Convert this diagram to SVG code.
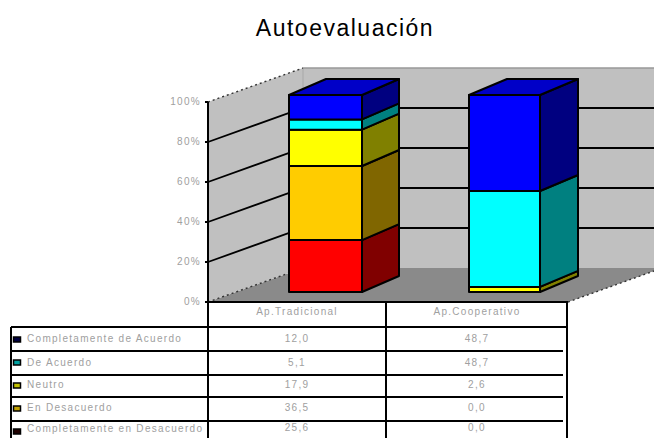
<svg xmlns="http://www.w3.org/2000/svg" width="654" height="438" viewBox="0 0 654 438">
<style>
.t{font-family:"Liberation Sans",Arial,sans-serif;font-size:10px;fill:#a0a0a0;letter-spacing:1.3px}
.title{font-family:"Liberation Sans",Arial,sans-serif;font-size:23px;fill:#000;letter-spacing:1.5px}
.grid{stroke:#000;stroke-width:1.8;fill:none}
.edge{stroke:#333;stroke-width:1.4;stroke-dasharray:2 3;fill:none}
.bar{stroke:#000;stroke-width:2;stroke-linejoin:round}
.tbl{stroke:#000;stroke-width:2;fill:none}
.key{stroke:#000;stroke-width:1.5}
</style>
<rect width="654" height="438" fill="#fff"/>
<g id="title"><text class="title" x="345" y="36" text-anchor="middle">Autoevaluación</text></g>
<g id="walls">
<polygon points="208,302 303,268 654,268 654,271 568,302" fill="#8a8a8a"/>
<polygon points="208,102 303,68 303,268 208,302" fill="#c0c0c0"/>
<rect x="303" y="68" width="351" height="200" fill="#c0c0c0"/>
<line x1="303" y1="68" x2="654" y2="68" stroke="#999" stroke-width="1.5"/>
<line x1="303" y1="68" x2="303" y2="268" stroke="#a8a8a8" stroke-width="1"/>
<line class="edge" x1="208" y1="102" x2="303" y2="68"/>
<line class="edge" x1="208" y1="302" x2="303" y2="268"/>
<line class="edge" x1="568" y1="302" x2="654" y2="271"/>
</g>
<g id="gridlines">
<path class="grid" d="M208,142 L303,108 L654,108 M208,182 L303,148 L654,148 M208,222 L303,188 L654,188 M208,262 L303,228 L654,228"/>
<path class="grid" d="M205,102 H208 M205,142 H208 M205,182 H208 M205,222 H208 M205,262 H208 M205,302 H208"/>
</g>
<g id="axis-labels">
<text class="t" x="201" y="105" text-anchor="end">100%</text>
<text class="t" x="201" y="145" text-anchor="end">80%</text>
<text class="t" x="201" y="185" text-anchor="end">60%</text>
<text class="t" x="201" y="225" text-anchor="end">40%</text>
<text class="t" x="201" y="265" text-anchor="end">20%</text>
<text class="t" x="201" y="305" text-anchor="end">0%</text>
</g>
<g id="bar-tradicional">
<polygon class="bar" fill="#ff0000" points="289,240.1 362,240.1 362,292 289,292"/>
<polygon class="bar" fill="#800000" points="362,292 399,276 399,224.1 362,240.1"/>
<polygon class="bar" fill="#ffcc00" points="289,166 362,166 362,240.1 289,240.1"/>
<polygon class="bar" fill="#806600" points="362,240.1 399,224.1 399,150 362,166"/>
<polygon class="bar" fill="#ffff00" points="289,129.7 362,129.7 362,166 289,166"/>
<polygon class="bar" fill="#808000" points="362,166 399,150 399,113.7 362,129.7"/>
<polygon class="bar" fill="#00ffff" points="289,119.4 362,119.4 362,129.7 289,129.7"/>
<polygon class="bar" fill="#008080" points="362,129.7 399,113.7 399,103.4 362,119.4"/>
<polygon class="bar" fill="#0000ff" points="289,95 362,95 362,119.4 289,119.4"/>
<polygon class="bar" fill="#000080" points="362,119.4 399,103.4 399,79 362,95"/>
<polygon class="bar" fill="#0000c8" points="289,95 326,79 399,79 362,95"/>
</g>
<g id="bar-cooperativo">
<polygon class="bar" fill="#ffff00" points="469,286.9 540,286.9 540,292 469,292"/>
<polygon class="bar" fill="#808000" points="540,292 578,276 578,270.9 540,286.9"/>
<polygon class="bar" fill="#00ffff" points="469,191 540,191 540,286.9 469,286.9"/>
<polygon class="bar" fill="#008080" points="540,286.9 578,270.9 578,175 540,191"/>
<polygon class="bar" fill="#0000ff" points="469,95 540,95 540,191 469,191"/>
<polygon class="bar" fill="#000080" points="540,191 578,175 578,79 540,95"/>
<polygon class="bar" fill="#0000c8" points="469,95 507,79 578,79 540,95"/>
</g>
<g id="data-table">
<rect x="208" y="302" width="359" height="136" fill="#fff"/>
<rect x="11" y="327" width="197" height="111" fill="#fff"/>
<path class="tbl" d="M208,302 H568 M208,102 V438 M386,302 V438 M567,302 V438 M11,327 V438 M11,327 H567 M11,351 H563 M11,375 H563 M11,397 H563 M11,421 H563"/>
<text class="t" x="297" y="315" text-anchor="middle">Ap.Tradicional</text>
<text class="t" x="477" y="315" text-anchor="middle">Ap.Cooperativo</text>
<g id="row1">
<rect class="key" x="13.5" y="337" width="7" height="5" fill="#000040"/>
<text class="t" x="27" y="342">Completamente de Acuerdo</text>
<text class="t" x="297" y="342" text-anchor="middle">12,0</text>
<text class="t" x="477" y="342" text-anchor="middle">48,7</text>
</g>
<g id="row2">
<rect class="key" x="13.5" y="360" width="7" height="5" fill="#00a0a0"/>
<text class="t" x="27" y="366">De Acuerdo</text>
<text class="t" x="297" y="366" text-anchor="middle">5,1</text>
<text class="t" x="477" y="366" text-anchor="middle">48,7</text>
</g>
<g id="row3">
<rect class="key" x="13.5" y="383" width="7" height="5" fill="#c0c000"/>
<text class="t" x="27" y="388">Neutro</text>
<text class="t" x="297" y="388" text-anchor="middle">17,9</text>
<text class="t" x="477" y="388" text-anchor="middle">2,6</text>
</g>
<g id="row4">
<rect class="key" x="13.5" y="406" width="7" height="5" fill="#c0a000"/>
<text class="t" x="27" y="411">En Desacuerdo</text>
<text class="t" x="297" y="411" text-anchor="middle">36,5</text>
<text class="t" x="477" y="411" text-anchor="middle">0,0</text>
</g>
<g id="row5">
<rect class="key" x="13.5" y="429" width="7" height="5" fill="#200000"/>
<text class="t" x="27" y="432">Completamente en Desacuerdo</text>
<text class="t" x="297" y="431" text-anchor="middle">25,6</text>
<text class="t" x="477" y="431" text-anchor="middle">0,0</text>
</g>
</g>
</svg>
